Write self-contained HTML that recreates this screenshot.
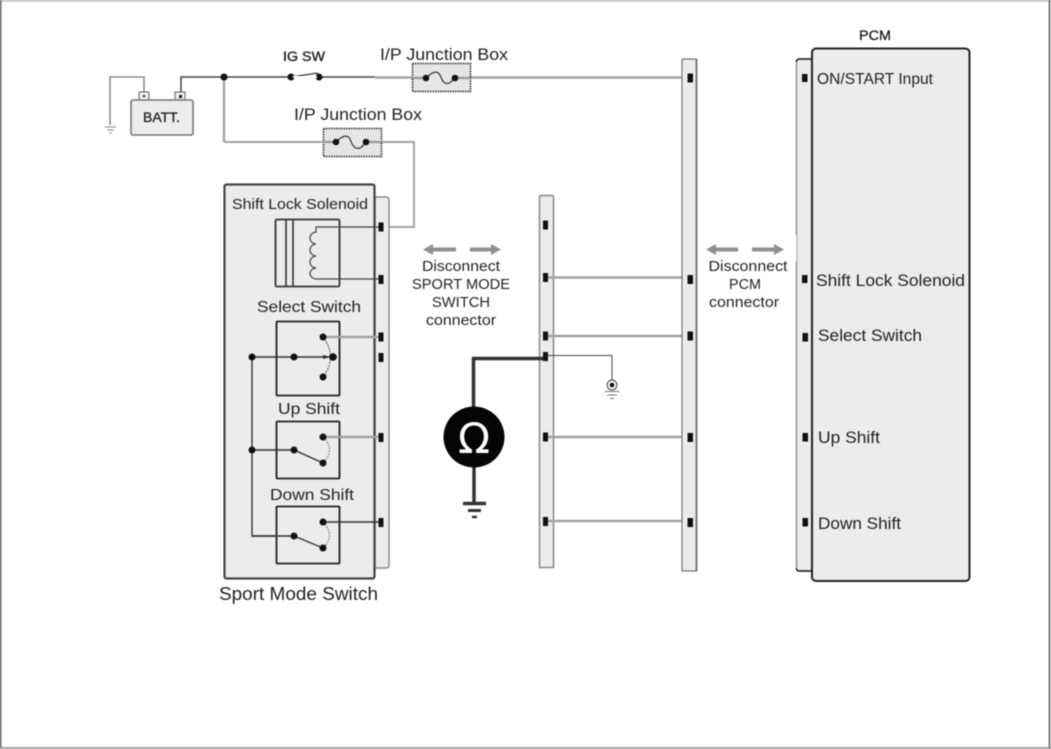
<!DOCTYPE html>
<html>
<head>
<meta charset="utf-8">
<style>
html,body{margin:0;padding:0;background:#fff;width:1051px;height:749px;overflow:hidden}
svg{display:block;filter:blur(.45px)}
text{font-family:"Liberation Sans",sans-serif;fill:#222;font-size:15px}
.g{stroke:#a3a3a3;stroke-width:2.4;fill:none}
.k{stroke:#333;stroke-width:1.4;fill:none}
</style>
</head>
<body>
<svg width="1051" height="749" viewBox="0 0 1051 749" xmlns="http://www.w3.org/2000/svg">
<path d="M0 .8H1051" stroke="#bdbdbd" stroke-width="1.600"/>
<path d="M.7 0V749" stroke="#555" stroke-width="1.500"/>
<path d="M1049.500 0V749" stroke="#555" stroke-width="1.500"/>
<path d="M0 748H1051" stroke="#8a8a8a" stroke-width="1.600"/>

<!-- Battery -->
<path d="M144 92V77H110V125" fill="none" stroke="#777" stroke-width="1.300"/>
<path d="M181 92V77H375" fill="none" stroke="#444" stroke-width="1.500"/>
<path d="M105 127H116M107 130H114M109 133H112" stroke="#888" stroke-width="1"/>
<rect x="139" y="92" width="10" height="9" fill="#eee" stroke="#666"/>
<rect x="175" y="92" width="10" height="9" fill="#eee" stroke="#666"/>
<rect x="143" y="95" width="2" height="2" fill="#222"/>
<rect x="179" y="95" width="3" height="3" fill="#222"/>
<rect x="131" y="100" width="62" height="35" rx="2" fill="#ececec" stroke="#777" stroke-width="1.600"/>
<text x="143" y="122" textLength="37" lengthAdjust="spacingAndGlyphs" style="font-size:14px;stroke:#222;stroke-width:.3">BATT.</text>

<!-- Top wires -->
<path d="M375 77.500H690" class="g"/>
<path d="M224 142H414V227H385" class="g" style="stroke-width:1.900"/>
<path d="M224 77V142" class="g"/>
<circle cx="224" cy="77" r="3.500" fill="#111"/>
<circle cx="291" cy="77" r="3.500" fill="#111"/>
<circle cx="319" cy="77" r="3.500" fill="#111"/>
<path d="M291 77L318 73" stroke="#333" stroke-width="1.200"/>
<path d="M293 77H317" stroke="#fff" stroke-width="2"/>
<text x="283" y="61" textLength="42" lengthAdjust="spacingAndGlyphs" style="font-size:14px;stroke:#222;stroke-width:.35">IG SW</text>
<text x="380" y="60" textLength="128" lengthAdjust="spacingAndGlyphs" style="font-size:17px">I/P Junction Box</text>
<text x="294" y="120" textLength="128" lengthAdjust="spacingAndGlyphs" style="font-size:17px">I/P Junction Box</text>

<!-- Fuse 1 -->
<rect x="412.500" y="63.500" width="58" height="28" fill="#e6e6e6" stroke="#222" stroke-width="1.500" stroke-dasharray="1.500 1"/>
<path d="M412 78H426M455 78H471" stroke="#999" stroke-width="2.200"/>
<path d="M426 78C432 72 437 70 440 75C442 80 444 85 449 83C452 82 453 79 455 78" fill="none" stroke="#333" stroke-width="1.200"/>
<circle cx="426" cy="78" r="3.300" fill="#111"/>
<circle cx="455" cy="78" r="3.300" fill="#111"/>
<!-- Fuse 2 -->
<rect x="323.500" y="128.500" width="58" height="28" fill="#e6e6e6" stroke="#222" stroke-width="1.500" stroke-dasharray="1.500 1"/>
<path d="M323 142H336M366 142H382" stroke="#999" stroke-width="2.200"/>
<path d="M336 142C342 136 347 134 350 139C352 144 354 150 360 148C363 147 364 143 366 142" fill="none" stroke="#333" stroke-width="1.200"/>
<circle cx="336" cy="142" r="3.300" fill="#111"/>
<circle cx="366" cy="142" r="3.300" fill="#111"/>

<!-- Sport mode connector strip -->
<path d="M375 197H386Q389 197 389 200V565Q389 568 386 568H375Z" fill="#ececec" stroke="#888" stroke-width="1.400"/>
<!-- Sport mode box -->
<rect x="224.500" y="184.500" width="150" height="394" rx="2" fill="#ececec" stroke="#444" stroke-width="2.200"/>
<text x="232" y="209" textLength="136" lengthAdjust="spacingAndGlyphs" style="font-size:15px">Shift Lock Solenoid</text>
<text x="257" y="312" textLength="104" lengthAdjust="spacingAndGlyphs" style="font-size:16px">Select Switch</text>
<text x="278" y="414" textLength="62" lengthAdjust="spacingAndGlyphs" style="font-size:16px">Up Shift</text>
<text x="270" y="500" textLength="84" lengthAdjust="spacingAndGlyphs" style="font-size:16px">Down Shift</text>
<text x="219" y="600" textLength="159" lengthAdjust="spacingAndGlyphs" style="font-size:18px">Sport Mode Switch</text>

<!-- Solenoid -->
<rect x="275.500" y="219.500" width="64" height="67" rx="1.500" fill="#ececec" stroke="#333" stroke-width="1.800"/>
<path d="M286 219V287M293 219V287" stroke="#333" stroke-width="1.600"/>
<path d="M380 227H316V232C308 233 308 243 316 244C308 245 308 255 316 256C308 257 308 267 316 268C308 269 308 278 316 279H380" fill="none" stroke="#444" stroke-width="1.200"/>

<!-- Select -->
<rect x="276.500" y="321.500" width="63" height="74" rx="1" fill="#ececec" stroke="#222" stroke-width="1.800"/>
<path d="M323 337H380" class="g"/>
<path d="M252 357H333" class="k"/>
<path d="M252 357V536H294" class="k"/>
<path d="M323 337Q338 357 323 377" fill="none" stroke="#555" stroke-width="1" stroke-dasharray="2 1"/>
<path d="M323 355L331 357L323 359Z" fill="#333"/>
<circle cx="252" cy="357" r="3.500" fill="#111"/>
<circle cx="294" cy="357" r="3.500" fill="#111"/>
<circle cx="333" cy="357" r="3.800" fill="#111"/>
<circle cx="323" cy="337" r="3.500" fill="#111"/>
<circle cx="323" cy="377" r="3.500" fill="#111"/>

<!-- Up -->
<rect x="276.500" y="421.500" width="63" height="57" rx="1" fill="#ececec" stroke="#222" stroke-width="1.800"/>
<path d="M323 437H380" class="g"/>
<path d="M252 450H294L323 463" class="k"/>
<path d="M323 437Q336 450 323 463" fill="none" stroke="#777" stroke-width="1" stroke-dasharray="2 1"/>
<circle cx="252" cy="450" r="3.500" fill="#111"/>
<circle cx="294" cy="450" r="3.500" fill="#111"/>
<circle cx="323" cy="437" r="3.500" fill="#111"/>
<circle cx="323" cy="463" r="3.500" fill="#111"/>

<!-- Down -->
<rect x="276.500" y="506.500" width="63" height="57" rx="1" fill="#ececec" stroke="#222" stroke-width="1.800"/>
<path d="M252 536H294" class="k"/>
<path d="M323 522H380" class="k"/>
<path d="M294 536L323 548" stroke="#333" stroke-width="1.400"/>
<path d="M323 522Q336 535 323 548" fill="none" stroke="#777" stroke-width="1" stroke-dasharray="2 1"/>
<circle cx="294" cy="536" r="3.500" fill="#111"/>
<circle cx="323" cy="522" r="3.500" fill="#111"/>
<circle cx="323" cy="548" r="3.500" fill="#111"/>

<!-- Sport pins -->
<g fill="#111">
<rect x="378.500" y="222.500" width="5" height="9"/>
<rect x="378.500" y="275" width="5" height="9"/>
<rect x="378.500" y="332.500" width="5" height="9"/>
<rect x="378.500" y="353" width="5" height="9"/>
<rect x="378.500" y="433" width="5" height="9"/>
<rect x="378.500" y="518" width="5" height="9"/>
</g>

<!-- Arrows -->
<g fill="#8f8f8f">
<path d="M423 249.500L433 244V247.500H456V251.500H433V255Z"/>
<path d="M501 249.500L491 244V247.500H470V251.500H491V255Z"/>
<path d="M706 249.500L716 244V247.500H738V251.500H716V255Z"/>
<path d="M784 249.500L774 244V247.500H752V251.500H774V255Z"/>
</g>
<g text-anchor="middle">
<text x="461" y="271" style="font-size:15px" textLength="78" lengthAdjust="spacingAndGlyphs">Disconnect</text>
<text x="461" y="289" style="font-size:15px" textLength="98" lengthAdjust="spacingAndGlyphs">SPORT MODE</text>
<text x="461" y="307" style="font-size:15px" textLength="58" lengthAdjust="spacingAndGlyphs">SWITCH</text>
<text x="461" y="325" style="font-size:15px" textLength="70" lengthAdjust="spacingAndGlyphs">connector</text>
<text x="748" y="271" style="font-size:15px" textLength="79" lengthAdjust="spacingAndGlyphs">Disconnect</text>
<text x="745" y="289" style="font-size:15px" textLength="32" lengthAdjust="spacingAndGlyphs">PCM</text>
<text x="744" y="307" style="font-size:15px" textLength="70" lengthAdjust="spacingAndGlyphs">connector</text>
</g>

<!-- Middle strip -->
<path d="M539.500 197Q539.500 195.500 541 195.500H552Q553.500 195.500 553.500 197V567.500H539.500Z" fill="#ececec" stroke="#888" stroke-width="1.500"/>
<path d="M548 277.500H690M548 336H690M548 437H690M548 521H690" class="g"/>
<path d="M545 355.500H612V380" fill="none" stroke="#444" stroke-width="1"/>
<path d="M545 358.500H473.500V408" fill="none" stroke="#333" stroke-width="3.500"/>
<path d="M474 465V503" stroke="#333" stroke-width="3.500"/>
<path d="M463 503.500H486" stroke="#333" stroke-width="3.500"/>
<path d="M468 510.500H481" stroke="#333" stroke-width="3"/>
<path d="M472 517H477" stroke="#333" stroke-width="2.500"/>
<circle cx="474" cy="437" r="30.500" fill="#050505"/>
<text x="474" y="453" text-anchor="middle" style="font-size:42px;fill:#fff;font-family:'DejaVu Sans',sans-serif">Ω</text>
<circle cx="612" cy="385" r="5" fill="#f4f4f4" stroke="#444" stroke-width="1"/>
<circle cx="612" cy="385" r="2.300" fill="#111"/>
<path d="M605 391.500H619M607 395H617M610 398.500H614" stroke="#777" stroke-width="1"/>
<g fill="#111">
<rect x="543" y="220.500" width="5" height="9"/>
<rect x="543" y="273" width="5" height="9"/>
<rect x="543" y="331.500" width="5" height="9"/>
<rect x="543" y="352" width="5" height="9"/>
<rect x="543" y="432.500" width="5" height="9"/>
<rect x="543" y="517" width="5" height="9"/>
</g>

<!-- Right strip -->
<path d="M682 60Q682 59 683 59H696.500V571H683Q682 571 682 570Z" fill="#ececec" stroke="#777" stroke-width="1.200"/>
<path d="M696.500 59V571" stroke="#777" stroke-width="2"/>
<g fill="#111">
<rect x="687.500" y="73.500" width="5.500" height="9"/>
<rect x="687.500" y="275" width="5.500" height="9"/>
<rect x="687.500" y="331.500" width="5.500" height="9"/>
<rect x="687.500" y="433" width="5.500" height="9"/>
<rect x="687.500" y="518" width="5.500" height="9"/>
</g>

<!-- PCM -->
<path d="M812 59H799Q796.500 59 796.500 62V568Q796.500 571 799 571H812Z" fill="#ececec" stroke="#888" stroke-width="1.400"/>
<path d="M812 59H799Q796.500 59 796.500 62M796.500 568Q796.500 571 799 571H812" fill="none" stroke="#222" stroke-width="1.400"/>
<path d="M795 235V262" stroke="#fff" stroke-width="3"/>
<rect x="812" y="48.500" width="157.500" height="532.500" rx="4" fill="#ececec" stroke="#222" stroke-width="2"/>
<text x="859" y="40" textLength="32" lengthAdjust="spacingAndGlyphs" style="font-size:14px;stroke:#222;stroke-width:.35">PCM</text>
<text x="817" y="84" textLength="116" lengthAdjust="spacingAndGlyphs" style="font-size:15.500px">ON/START Input</text>
<text x="816" y="286" textLength="149" lengthAdjust="spacingAndGlyphs" style="font-size:17px">Shift Lock Solenoid</text>
<text x="818" y="341" textLength="104" lengthAdjust="spacingAndGlyphs" style="font-size:17px">Select Switch</text>
<text x="818" y="443" textLength="62" lengthAdjust="spacingAndGlyphs" style="font-size:17px">Up Shift</text>
<text x="818" y="529" textLength="83" lengthAdjust="spacingAndGlyphs" style="font-size:17px">Down Shift</text>
<g fill="#111">
<rect x="802" y="74" width="5.500" height="8"/>
<rect x="802" y="275" width="5.500" height="8"/>
<rect x="802.500" y="333" width="5.500" height="8.500"/>
<rect x="802.500" y="433" width="5.500" height="8.500"/>
<rect x="802.500" y="518" width="5.500" height="8.500"/>
</g>
</svg>
</body>
</html>
